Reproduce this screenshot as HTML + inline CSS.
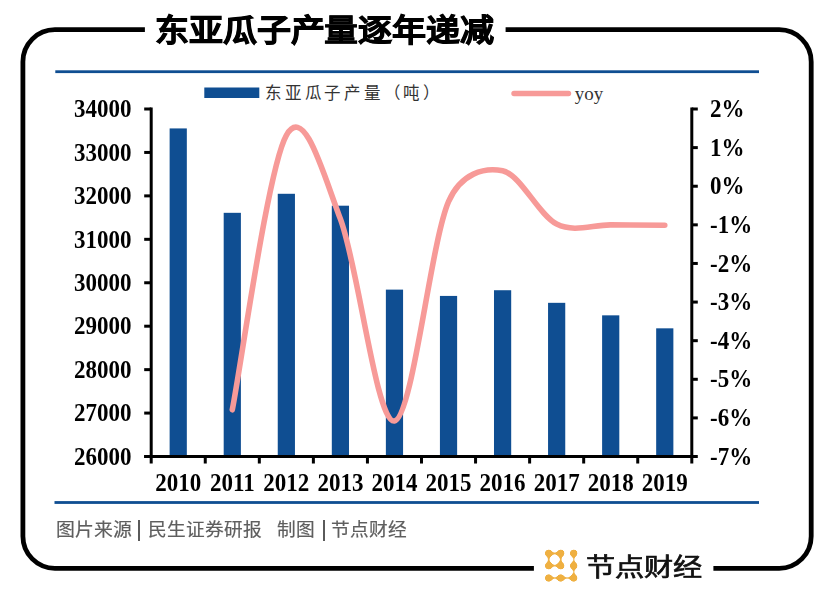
<!DOCTYPE html>
<html lang="zh-CN"><head><meta charset="utf-8">
<style>
html,body{margin:0;padding:0;background:#fff;width:835px;height:593px;overflow:hidden;position:relative}
.abs{position:absolute}
.lab{position:absolute;font-family:"Liberation Serif",serif;font-weight:bold;font-size:23px;line-height:27.599999999999998px;color:#000;white-space:nowrap;transform:scaleY(1.07)}
.lab.l{text-align:right}
.lab.c{width:60px;text-align:center}
.title{position:absolute;left:155.4px;top:10.1px;font-family:"Liberation Sans",sans-serif;font-weight:900;font-size:34px;line-height:44px;letter-spacing:-0.2px;color:#000;white-space:nowrap;-webkit-text-stroke:0.9px #000;transform:scaleY(0.91);transform-origin:0 0}
.foot{position:absolute;font-family:"Liberation Sans",sans-serif;font-size:18.7px;line-height:24px;color:#5e5e5e;-webkit-text-stroke:0.2px #5e5e5e;white-space:nowrap;transform:scaleY(0.97);transform-origin:0 0}
.leg{position:absolute;font-family:"Liberation Serif",serif;font-size:16px;line-height:20px;color:#333;white-space:nowrap}
.brand{position:absolute;left:586.3px;top:552.3px;font-family:"Liberation Sans",sans-serif;font-weight:500;font-size:29.2px;line-height:36px;color:#111;-webkit-text-stroke:0.8px #111;white-space:nowrap;transform:scaleY(0.85);transform-origin:0 0}
</style></head><body>
<svg class="abs" style="left:0;top:0" width="835" height="593" viewBox="0 0 835 593">
<path d="M144.9,29.7 H54.9 A32,32 0 0 0 22.9,61.7 V536.3 A32,32 0 0 0 54.9,568.3 H533.9" fill="none" stroke="#000" stroke-width="4.8"/><path d="M505.6,29.7 H779.2 A32,32 0 0 1 811.2,61.7 V536.3 A32,32 0 0 1 779.2,568.3 H713.4" fill="none" stroke="#000" stroke-width="4.8"/>
<rect x="55.3" y="70.3" width="703.7" height="2.8" fill="#0f4e92"/>
<rect x="54.5" y="501.1" width="704.5" height="2.8" fill="#0f4e92"/>
<rect x="204.3" y="87.5" width="55" height="10.5" fill="#0f4e92"/>
<line x1="514" y1="93.5" x2="568.5" y2="93.5" stroke="#f79a98" stroke-width="5.4" stroke-linecap="round"/>
<rect x="169.63" y="128.42" width="17.2" height="328.10" fill="#0f4e92"/>
<rect x="223.69" y="212.82" width="17.2" height="243.70" fill="#0f4e92"/>
<rect x="277.75" y="193.79" width="17.2" height="262.73" fill="#0f4e92"/>
<rect x="331.81" y="205.70" width="17.2" height="250.82" fill="#0f4e92"/>
<rect x="385.87" y="289.62" width="17.2" height="166.90" fill="#0f4e92"/>
<rect x="439.93" y="295.92" width="17.2" height="160.60" fill="#0f4e92"/>
<rect x="493.99" y="290.23" width="17.2" height="166.29" fill="#0f4e92"/>
<rect x="548.05" y="302.83" width="17.2" height="153.69" fill="#0f4e92"/>
<rect x="602.11" y="315.34" width="17.2" height="141.18" fill="#0f4e92"/>
<rect x="656.17" y="328.33" width="17.2" height="128.19" fill="#0f4e92"/>
<line x1="151.2" y1="107.5" x2="151.2" y2="463.52" stroke="#000" stroke-width="3.0"/>
<line x1="691.8" y1="107.5" x2="691.8" y2="463.52" stroke="#000" stroke-width="3.0"/>
<line x1="144.2" y1="456.52" x2="697.8" y2="456.52" stroke="#000" stroke-width="3.0"/>
<line x1="144.2" y1="109.00" x2="151.2" y2="109.00" stroke="#000" stroke-width="3.0"/>
<line x1="144.2" y1="152.44" x2="151.2" y2="152.44" stroke="#000" stroke-width="3.0"/>
<line x1="144.2" y1="195.88" x2="151.2" y2="195.88" stroke="#000" stroke-width="3.0"/>
<line x1="144.2" y1="239.32" x2="151.2" y2="239.32" stroke="#000" stroke-width="3.0"/>
<line x1="144.2" y1="282.76" x2="151.2" y2="282.76" stroke="#000" stroke-width="3.0"/>
<line x1="144.2" y1="326.20" x2="151.2" y2="326.20" stroke="#000" stroke-width="3.0"/>
<line x1="144.2" y1="369.64" x2="151.2" y2="369.64" stroke="#000" stroke-width="3.0"/>
<line x1="144.2" y1="413.08" x2="151.2" y2="413.08" stroke="#000" stroke-width="3.0"/>
<line x1="144.2" y1="456.52" x2="151.2" y2="456.52" stroke="#000" stroke-width="3.0"/>
<line x1="691.8" y1="109.00" x2="697.8" y2="109.00" stroke="#000" stroke-width="3.0"/>
<line x1="691.8" y1="147.61" x2="697.8" y2="147.61" stroke="#000" stroke-width="3.0"/>
<line x1="691.8" y1="186.23" x2="697.8" y2="186.23" stroke="#000" stroke-width="3.0"/>
<line x1="691.8" y1="224.84" x2="697.8" y2="224.84" stroke="#000" stroke-width="3.0"/>
<line x1="691.8" y1="263.45" x2="697.8" y2="263.45" stroke="#000" stroke-width="3.0"/>
<line x1="691.8" y1="302.07" x2="697.8" y2="302.07" stroke="#000" stroke-width="3.0"/>
<line x1="691.8" y1="340.68" x2="697.8" y2="340.68" stroke="#000" stroke-width="3.0"/>
<line x1="691.8" y1="379.29" x2="697.8" y2="379.29" stroke="#000" stroke-width="3.0"/>
<line x1="691.8" y1="417.91" x2="697.8" y2="417.91" stroke="#000" stroke-width="3.0"/>
<line x1="205.26" y1="456.52" x2="205.26" y2="463.52" stroke="#000" stroke-width="3.0"/>
<line x1="259.32" y1="456.52" x2="259.32" y2="463.52" stroke="#000" stroke-width="3.0"/>
<line x1="313.38" y1="456.52" x2="313.38" y2="463.52" stroke="#000" stroke-width="3.0"/>
<line x1="367.44" y1="456.52" x2="367.44" y2="463.52" stroke="#000" stroke-width="3.0"/>
<line x1="421.50" y1="456.52" x2="421.50" y2="463.52" stroke="#000" stroke-width="3.0"/>
<line x1="475.56" y1="456.52" x2="475.56" y2="463.52" stroke="#000" stroke-width="3.0"/>
<line x1="529.62" y1="456.52" x2="529.62" y2="463.52" stroke="#000" stroke-width="3.0"/>
<line x1="583.68" y1="456.52" x2="583.68" y2="463.52" stroke="#000" stroke-width="3.0"/>
<line x1="637.74" y1="456.52" x2="637.74" y2="463.52" stroke="#000" stroke-width="3.0"/>
<path d="M232.29,409.80 C241.30,364.04 268.33,167.05 286.35,135.26 C304.37,103.47 322.77,172.42 340.41,219.05 C358.43,266.67 376.45,423.89 394.47,421.00 C412.49,418.10 430.51,243.37 448.53,201.67 C460.88,173.09 484.57,167.05 502.59,170.78 C520.61,174.51 538.63,215.06 556.65,224.07 C574.67,233.08 592.69,224.65 610.71,224.84 C628.73,225.03 655.76,225.16 664.77,225.23" fill="none" stroke="#f79a98" stroke-width="5.6" stroke-linecap="round" stroke-linejoin="round"/>
<defs><filter id="goo" x="-20%" y="-20%" width="140%" height="140%"><feGaussianBlur in="SourceGraphic" stdDeviation="1.0" result="b"/><feColorMatrix in="b" type="matrix" values="1 0 0 0 0  0 1 0 0 0  0 0 1 0 0  0 0 0 5 -2"/></filter></defs><g filter="url(#goo)">
<circle cx="548.7" cy="553.3" r="3.8" fill="#efb042"/>
<circle cx="560.7" cy="553.3" r="3.8" fill="#efb042"/>
<circle cx="548.7" cy="565.8" r="3.8" fill="#efb042"/>
<circle cx="560.7" cy="565.8" r="3.8" fill="#efb042"/>
<circle cx="573.7" cy="553.3" r="3.8" fill="#efb042"/>
<circle cx="573.7" cy="565.8" r="3.8" fill="#efb042"/>
<circle cx="573.7" cy="578.0" r="3.8" fill="#efb042"/>
<circle cx="548.7" cy="578.0" r="3.8" fill="#efb042"/>
<circle cx="560.7" cy="578.0" r="3.8" fill="#efb042"/>
<circle cx="554.7" cy="559.55" r="6.2" fill="none" stroke="#efb042" stroke-width="2.0"/>
<line x1="573.7" y1="553.3" x2="573.7" y2="578.0" stroke="#efb042" stroke-width="1.8"/>
<line x1="548.7" y1="578.0" x2="573.7" y2="578.0" stroke="#efb042" stroke-width="1.8"/>
</g>
</svg>
<div class="title">东亚瓜子产<span style="-webkit-text-stroke:0.3px #000">量</span>逐年递减</div>
<div class="leg" style="left:265px;top:83.5px;font-size:16.5px;letter-spacing:2.75px">东亚瓜子产量（吨）</div>
<div class="leg" style="left:574.7px;top:83.6px;font-size:19px">yoy</div>
<div class="lab l" style="top:95.20px;right:703.50px">34000</div>
<div class="lab l" style="top:138.64px;right:703.50px">33000</div>
<div class="lab l" style="top:182.08px;right:703.50px">32000</div>
<div class="lab l" style="top:225.52px;right:703.50px">31000</div>
<div class="lab l" style="top:268.96px;right:703.50px">30000</div>
<div class="lab l" style="top:312.40px;right:703.50px">29000</div>
<div class="lab l" style="top:355.84px;right:703.50px">28000</div>
<div class="lab l" style="top:399.28px;right:703.50px">27000</div>
<div class="lab l" style="top:442.72px;right:703.50px">26000</div>
<div class="lab r" style="top:95.20px;left:710px">2%</div>
<div class="lab r" style="top:133.81px;left:710px">1%</div>
<div class="lab r" style="top:172.43px;left:710px">0%</div>
<div class="lab r" style="top:211.04px;left:710px">-1%</div>
<div class="lab r" style="top:249.65px;left:710px">-2%</div>
<div class="lab r" style="top:288.27px;left:710px">-3%</div>
<div class="lab r" style="top:326.88px;left:710px">-4%</div>
<div class="lab r" style="top:365.49px;left:710px">-5%</div>
<div class="lab r" style="top:404.11px;left:710px">-6%</div>
<div class="lab r" style="top:442.72px;left:710px">-7%</div>
<div class="lab c" style="top:469.00px;left:148.23px">2010</div>
<div class="lab c" style="top:469.00px;left:202.29px">2011</div>
<div class="lab c" style="top:469.00px;left:256.35px">2012</div>
<div class="lab c" style="top:469.00px;left:310.41px">2013</div>
<div class="lab c" style="top:469.00px;left:364.47px">2014</div>
<div class="lab c" style="top:469.00px;left:418.53px">2015</div>
<div class="lab c" style="top:469.00px;left:472.59px">2016</div>
<div class="lab c" style="top:469.00px;left:526.65px">2017</div>
<div class="lab c" style="top:469.00px;left:580.71px">2018</div>
<div class="lab c" style="top:469.00px;left:634.77px">2019</div>
<div class="foot" style="left:55.7px;top:519.0px;font-size:18.9px">图片来源</div>
<div class="foot" style="left:147.6px;top:519.0px">民生证券研报</div>
<div class="foot" style="left:277.3px;top:519.0px">制图</div>
<div class="foot" style="left:331px;top:519.0px">节点财经</div>
<div class="abs" style="left:138.1px;top:520px;width:2px;height:20.7px;background:#5a5a5a"></div>
<div class="abs" style="left:322.6px;top:520px;width:2px;height:20.7px;background:#5a5a5a"></div>
<div class="brand">节点财经</div>
</body></html>
